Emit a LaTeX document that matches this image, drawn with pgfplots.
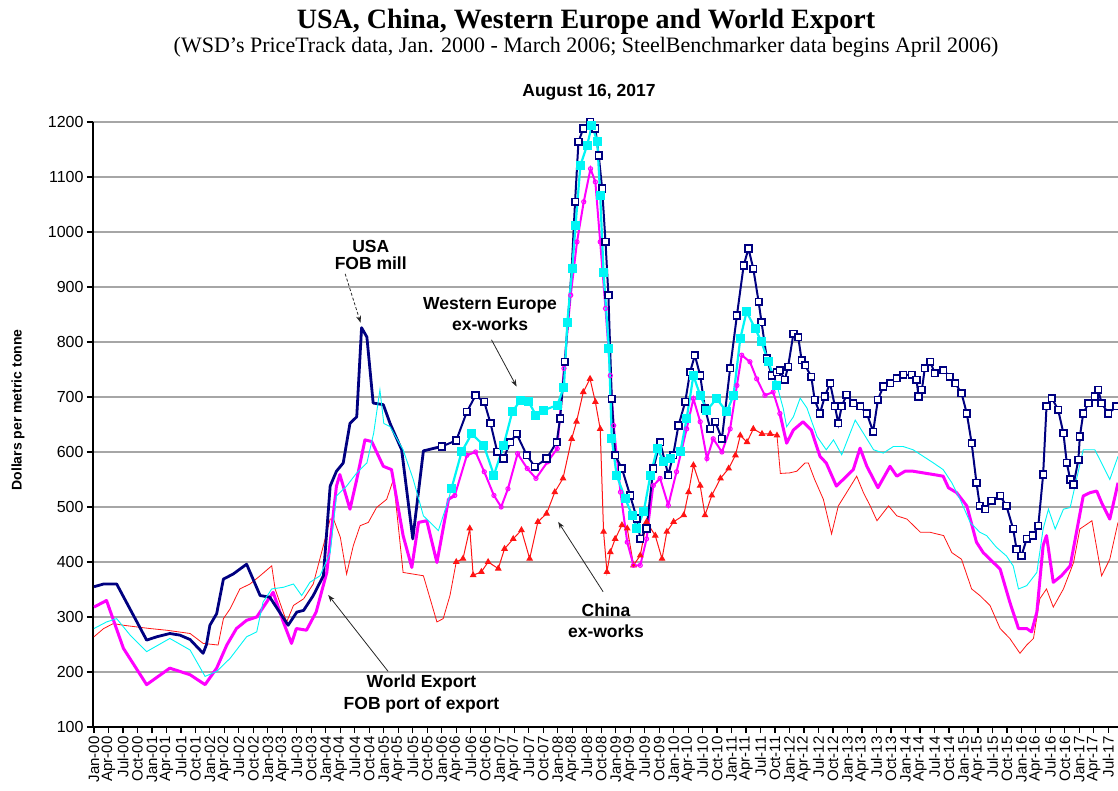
\documentclass[border=0pt]{standalone}
\usepackage{pgfplots}
\pgfplotsset{compat=1.18}
\usepackage{fontspec}
\setmainfont{Liberation Serif}
\newfontfamily\arial{Liberation Sans}
\usetikzlibrary{arrows.meta}
\definecolor{usnavy}{RGB}{0,0,128}
\definecolor{wecyan}{RGB}{0,245,245}
\definecolor{wemag}{RGB}{255,0,255}
\definecolor{cnred}{RGB}{255,20,20}
\begin{document}
\begin{tikzpicture}
\begin{axis}[
  at={(0,0)}, anchor=south west,
  scale only axis, width=1025pt, height=605pt,
  xmin=-0.2, xmax=212, ymin=100, ymax=1200,
  axis x line*=bottom, axis y line*=left,
  axis line style={-, line width=1.4pt, black},
  clip=false,
  xtick={0,3,...,210},
  xticklabels={Jan-00,Apr-00,Jul-00,Oct-00,Jan-01,Apr-01,Jul-01,Oct-01,Jan-02,Apr-02,Jul-02,Oct-02,Jan-03,Apr-03,Jul-03,Oct-03,Jan-04,Apr-04,Jul-04,Oct-04,Jan-05,Apr-05,Jul-05,Oct-05,Jan-06,Apr-06,Jul-06,Oct-06,Jan-07,Apr-07,Jul-07,Oct-07,Jan-08,Apr-08,Jul-08,Oct-08,Jan-09,Apr-09,Jul-09,Oct-09,Jan-10,Apr-10,Jul-10,Oct-10,Jan-11,Apr-11,Jul-11,Oct-11,Jan-12,Apr-12,Jul-12,Oct-12,Jan-13,Apr-13,Jul-13,Oct-13,Jan-14,Apr-14,Jul-14,Oct-14,Jan-15,Apr-15,Jul-15,Oct-15,Jan-16,Apr-16,Jul-16,Oct-16,Jan-17,Apr-17,Jul-17},
  ytick={100,200,...,1200},
  ymajorgrids, major grid style={gray!70, line width=1.4pt},
  tick align=outside, major tick length=6pt, tick style={black, line width=1.2pt},
  /pgf/number format/assume math mode=true, /pgf/number format/1000 sep={},
  yticklabel style={font=\arial\fontsize{16}{16}\selectfont},
  xticklabel style={font=\arial\fontsize{15}{15}\selectfont, rotate=90, anchor=east},
]
% ---------------- China ex-works (red)
\addplot[cnred, line width=0.8pt, no markers] coordinates {
(0,264)(2,279)(4,288)(6.1,285)(8.8,282)(11.6,279)(15,276)(19.9,270)(22.6,252)(25.7,249)(26.8,297)(28.2,315)(30.2,351)(32.3,360)(34.4,375)(36.8,393)(37.5,351)(39.9,291)(41.3,321)(43.4,333)(45.4,360)(47.5,430)(48.9,478)(49.6,478)(51,445)(52.3,378)(53.7,430)(55.1,466)(56.8,472)(58.5,499)(60.6,514)(62,550)(64,381)(66.1,378)(68.2,375)(69.6,333)(71,291)(72.3,297)(73.7,339)(75,400)};
\addplot[cnred, line width=1pt, mark=triangle*, mark size=3pt, mark options={solid}] coordinates {
(75,400)(76.4,406)(77.8,461)(78.5,376)(80.2,382)(81.6,400)(83.7,388)(85,424)(86.8,442)(88.5,458)(90.2,406)(91.9,473)(93.7,488)(95.4,527)(97.1,552)(98.9,624)(99.9,655)(101.3,709)(102.7,733)(103.8,691)(104.8,642)(105.5,455)(106.2,382)(106.9,418)(107.9,442)(109.3,467)(110.4,461)(111.7,394)(113.1,412)(114.4,473)(116.2,448)(117.6,406)(118.6,455)(120,473)(122.1,485)(123.1,527)(124.1,576)(125.5,539)(126.5,485)(127.9,521)(129.7,552)(131.4,570)(132.8,594)(133.8,630)(135.2,618)(136.5,642)(138.3,633)(140,633)(141.4,630)};
\addplot[cnred, line width=0.8pt, no markers] coordinates {
(141.4,630)(142.1,561)(144,562)(145.5,565)(147.2,580)(147.9,580)(149.2,550)(151,514)(152.7,451)(154.1,502)(155.8,526)(157.9,556)(159.3,526)(160.7,502)(162.1,475)(164.5,502)(166.2,484)(168.3,478)(171.1,454)(173.1,454)(175.9,448)(177.6,417)(179.6,405)(181.7,351)(183.4,339)(185.5,321)(187.6,279)(189.6,261)(191.7,234)(193.1,249)(194.5,261)(195.8,333)(197.2,351)(198.6,318)(200.7,351)(202.8,399)(204.1,460)(206.6,475)(208.6,375)(210.3,405)(212,472)};
% ---------------- World Export FOB port (magenta)
\addplot[wemag, line width=3pt, no markers, line join=round] coordinates {
(0,318)(2.6,330)(6.1,243)(10.9,177)(15.7,207)(19.9,195)(23,177)(25.4,207)(27.5,249)(29.5,279)(31.6,294)(33.7,300)(37.1,345)(39.2,291)(40.9,252)(41.9,279)(44,276)(46,309)(48.2,381)(50.2,538)(50.9,559)(53,496)(54.4,550)(56.1,622)(57.5,619)(59.9,574)(61.6,568)(64,448)(65.8,390)(67.2,472)(68.9,475)(71,399)(73.4,514)(74.7,521)};
\addplot[wemag, line width=2pt, mark=o, mark size=2.1pt, mark options={solid, line width=1pt}] coordinates {
(74.7,521)(77.2,594)(79,600)(80.8,564)(82.8,521)(84.3,500)(85.7,533)(87.7,597)(89.7,570)(91.5,552)(93.9,582)(95.9,606)(97.3,752)(98.7,885)(100,982)(101.4,1055)(102.8,1115)(103.8,1091)(104.8,982)(105.9,861)(106.9,739)(107.6,648)(109,527)(110.4,436)(111.7,394)(113.1,394)(114.4,442)(115.8,539)(117.2,552)(118.9,503)(120.6,564)(122.7,642)(124.1,697)(125.5,655)(126.9,588)(128.2,624)(130,600)(131.7,642)(133.1,721)(134.1,776)(135.8,764)(137.2,733)(138.9,703)(140.6,709)(142,670)};
\addplot[wemag, line width=3pt, no markers, line join=round] coordinates {
(142,670)(143.4,616)(144.8,640)(146.8,655)(148.5,640)(150.3,592)(151.6,580)(153.7,538)(155.8,556)(157.2,568)(158.6,607)(160,574)(162.3,535)(164.8,574)(166.2,556)(167.9,565)(169.6,565)(171.7,562)(173.8,559)(175.8,556)(176.9,535)(178.6,526)(180.7,502)(182.7,436)(184.1,417)(186.2,399)(187.6,387)(189.6,327)(191.4,279)(193.1,279)(194.1,273)(195.2,309)(196.5,430)(197.2,448)(198.6,363)(200.3,375)(202.1,393)(203.4,454)(204.8,520)(206.2,526)(207.6,529)(208.6,508)(210.3,478)(211.4,520)(212,544)};
% ---------------- USA FOB mill (navy)
\addplot[usnavy, line width=2.8pt, no markers, line join=round] coordinates {
(0,355)(2,360)(4.7,360)(10.9,258)(13,264)(15.7,270)(17.8,267)(19.9,259)(22.6,234)(23.3,250)(24,285)(25.4,306)(26.8,369)(28.8,378)(31.6,396)(34.4,339)(36.4,336)(40.2,285)(42,309)(43.4,312)(45.4,339)(47.5,375)(48.9,538)(50.2,565)(51.6,580)(53,652)(54.4,664)(55.4,826)(56.5,809)(57.8,689)(59.9,686)(61.3,652)(63.7,604)(66,442)(68.2,602)(71,608)(72,610)};
\addplot[usnavy, line width=2pt, mark=square*, mark size=3.3pt, mark options={solid, fill=white, line width=1.6pt}] coordinates {
(72,610)(75,621)(77.2,673)(79,703)(80.8,691)(82.1,652)(83.5,600)(84.8,588)(86.2,618)(87.5,633)(89.6,594)(91.3,573)(93.7,588)(95.8,618)(96.5,661)(97.5,764)(98.9,933)(99.6,1055)(100.3,1164)(101.3,1188)(102.7,1200)(103.8,1188)(104.5,1139)(105.2,1079)(105.9,982)(106.5,885)(107.2,697)(107.9,594)(109.3,570)(111,521)(112.4,479)(113.1,442)(114.4,461)(115.8,570)(117.2,618)(118.9,558)(119.9,594)(121,648)(122.4,691)(123.4,745)(124.4,776)(125.5,739)(126.5,679)(127.6,642)(128.6,655)(130,624)(131.7,752)(133.1,848)(134.5,939)(135.5,970)(136.5,933)(137.6,873)(138.2,836)(139.3,770)(140.3,739)(141.4,745)
(142,749)(143,731)(143.7,755)(144.8,815)(145.8,809)(146.5,767)(147.2,758)(148.5,737)(149.2,695)(150.3,670)(151.3,701)(152.4,725)(153.4,683)(154.1,652)(154.8,683)(155.8,704)(157.2,689)(158.6,683)(160,670)(161.3,637)(162.3,695)(163.4,719)(164.8,725)(166.2,734)(167.5,740)(169.3,740)(170.3,731)(170.7,701)(171.4,713)(172,752)(173.1,764)(174.1,743)(175.8,749)(177.2,737)(178.3,725)(179.6,707)(180.7,670)(181.7,616)(182.7,544)(183.4,502)(184.5,496)(185.8,511)(187.6,520)(188.9,502)(190.3,460)(191,423)(192,411)(193.1,442)(194.4,448)(195.5,466)(196.5,559)(197.2,683)(198.3,698)(199.6,677)(200.7,634)(201.4,580)(202.1,550)(202.8,541)(203.8,586)(204.1,628)(204.8,670)(205.9,689)(207.2,701)(207.9,713)(208.6,689)(210,670)(211.7,683)};
% ---------------- Western Europe ex-works (cyan)
\addplot[wecyan, line width=0.9pt, no markers] coordinates {
(0,279)(2.6,291)(4.7,297)(7.5,267)(10.9,237)(15.7,261)(19.9,240)(23,192)(25.4,201)(28.2,225)(31.6,264)(33.7,273)(35,327)(36.8,351)(39.2,354)(41.3,360)(43,339)(44.7,363)(46.8,375)(48.9,417)(50.2,520)(52.3,538)(54.4,562)(56.5,580)(57.9,634)(59.2,713)(60,652)(61.3,646)(64,604)(66.1,550)(68.2,484)(71.3,457)(73.4,514)(74,533)};
\addplot[wecyan, line width=2.2pt, mark=square*, mark size=3.4pt, mark options={solid}] coordinates {
(74,533)(76.1,600)(78.2,633)(80.7,612)(82.8,558)(84.8,612)(86.6,673)(88.3,694)(90,691)(91.5,667)(93.1,676)(95.9,685)(97.3,718)(98,836)(99,933)(99.7,1012)(100.7,1121)(102.1,1158)(103.1,1194)(104.2,1164)(104.8,1067)(105.5,927)(106.6,788)(107.2,624)(108.2,558)(110,515)(111.4,485)(112.4,461)(113.8,491)(115.2,558)(116.6,606)(118,582)(119.3,588)(121.4,600)(122.7,661)(124.1,739)(125.5,703)(126.9,676)(128.9,697)(131,673)(132.4,703)(133.8,806)(135.1,855)(136.9,824)(138.2,800)(139.6,764)(141.4,721)};
\addplot[wecyan, line width=0.9pt, no markers] coordinates {
(141.4,721)(142.7,679)(143.4,646)(144.8,664)(146.2,698)(147.6,680)(149.7,628)(151.6,604)(153.1,622)(154.8,595)(157.6,658)(159.3,634)(161.4,604)(163.4,598)(165.5,610)(167.5,610)(169.6,604)(171.7,592)(173.8,580)(175.8,568)(177.6,544)(179.3,514)(181.4,472)(183.4,454)(184.8,448)(186.8,427)(188.9,411)(190.3,393)(191.4,351)(193.1,357)(195.2,381)(196.5,460)(197.6,496)(199,460)(200.7,496)(202.1,499)(203.4,550)(204.8,604)(206.2,604)(207.2,604)(208.6,580)(210.3,550)(212,592)};
% ---------------- annotations
\node[font=\arial\bfseries\fontsize{17.5}{16.7}\selectfont, align=center] at (axis cs:57.3,958) {USA\\FOB mill};
\draw[black!85, line width=0.8pt, densely dashed, -{Stealth[length=7pt,width=5pt]}] (axis cs:52,924) -- (axis cs:55.2,835);
\node[font=\arial\bfseries\fontsize{17.5}{21.7}\selectfont, align=center] at (axis cs:82,851) {Western Europe\\ex-works};
\draw[black!85, line width=0.8pt, -{Stealth[length=7pt,width=5pt]}] (axis cs:82.3,804) -- (axis cs:87.5,719);
\node[font=\arial\bfseries\fontsize{17.5}{21.7}\selectfont, align=center] at (axis cs:106,293) {China\\ex-works};
\draw[black!85, line width=0.8pt, -{Stealth[length=7pt,width=5pt]}] (axis cs:105.4,346) -- (axis cs:96.1,473);
\node[font=\arial\bfseries\fontsize{17.5}{21.7}\selectfont, align=center] at (axis cs:67.8,160) {World Export\\FOB port of export};
\draw[black!85, line width=0.8pt, -{Stealth[length=7pt,width=5pt]}] (axis cs:60.9,201) -- (axis cs:48.5,340);
\end{axis}
\node[anchor=base, font=\bfseries\fontsize{28}{28}\selectfont] at (493pt,698pt) {USA, China, Western Europe and World Export};
\node[anchor=base, font=\fontsize{22}{22}\selectfont] at (493pt,674pt) {(WSD's PriceTrack data, Jan. 2000 - March 2006; SteelBenchmarker data begins April 2006)};
\node[anchor=base, font=\arial\bfseries\fontsize{17.5}{17.5}\selectfont] at (496pt,630pt) {August 16, 2017};
\node[rotate=90, font=\arial\bfseries\fontsize{14}{14}\selectfont] at (-75pt,317pt) {Dollars per metric tonne};
\pgfresetboundingbox
\path[use as bounding box] (-93pt,-64pt) rectangle (1025pt,727pt);
\end{tikzpicture}
\end{document}
